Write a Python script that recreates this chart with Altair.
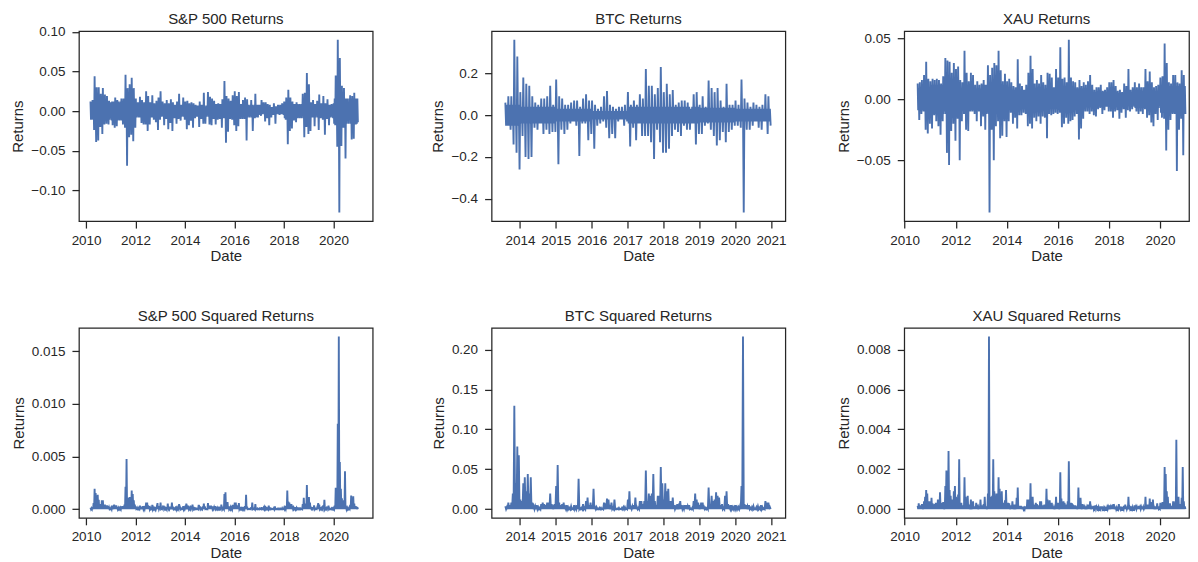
import altair as alt
import pandas as pd

# ---------------- data ----------------
# Monthly maximum / minimum daily log return of each asset.
spx_start = (2010, 3)
spx_up = [0.012, 0.014, 0.044, 0.030, 0.030, 0.022, 0.029, 0.021, 0.019, 0.013,
          0.011, 0.012, 0.017, 0.014, 0.010, 0.016, 0.016, 0.046, 0.029, 0.034, 0.042, 0.029,
          0.016, 0.011, 0.018, 0.014, 0.011, 0.025, 0.019, 0.011, 0.020, 0.010, 0.013, 0.017,
          0.025, 0.012, 0.010, 0.014, 0.010, 0.015, 0.011, 0.008, 0.012, 0.022, 0.008, 0.017,
          0.012, 0.013, 0.010, 0.011, 0.010, 0.008, 0.007, 0.012, 0.008, 0.023, 0.005, 0.024,
          0.018, 0.016, 0.013, 0.009, 0.010, 0.009, 0.015, 0.038, 0.019, 0.016, 0.013, 0.020,
          0.025, 0.019, 0.024, 0.009, 0.014, 0.017, 0.015, 0.005, 0.014, 0.006, 0.022, 0.008,
          0.008, 0.014, 0.011, 0.011, 0.009, 0.008, 0.005, 0.010, 0.006, 0.008, 0.008, 0.010,
          0.012, 0.017, 0.027, 0.017, 0.012, 0.009, 0.011, 0.008, 0.008, 0.022, 0.023, 0.048,
          0.034, 0.011, 0.014, 0.009, 0.013, 0.021, 0.010, 0.019, 0.010, 0.015, 0.008, 0.009,
          0.010, 0.045, 0.090, 0.067, 0.032, 0.029, 0.016, 0.010, 0.020, 0.019, 0.023, 0.016]
spx_lo = [-0.010, -0.024, -0.039, -0.037, -0.020, -0.029, -0.017, -0.016, -0.017, -0.007,
          -0.018, -0.021, -0.019, -0.011, -0.011, -0.017, -0.021, -0.069, -0.033, -0.030, -0.038, -0.021,
          -0.006, -0.008, -0.015, -0.017, -0.017, -0.025, -0.017, -0.008, -0.011, -0.014, -0.024, -0.011,
          -0.006, -0.018, -0.010, -0.023, -0.015, -0.025, -0.009, -0.016, -0.010, -0.012, -0.006, -0.011,
          -0.023, -0.018, -0.012, -0.021, -0.009, -0.007, -0.020, -0.010, -0.016, -0.016, -0.004, -0.017,
          -0.018, -0.010, -0.017, -0.011, -0.010, -0.021, -0.009, -0.040, -0.026, -0.010, -0.011, -0.018,
          -0.025, -0.019, -0.010, -0.010, -0.010, -0.037, -0.005, -0.006, -0.025, -0.009, -0.007, -0.005,
          -0.006, -0.003, -0.013, -0.009, -0.018, -0.008, -0.005, -0.016, -0.003, -0.005, -0.004, -0.005,
          -0.011, -0.042, -0.025, -0.022, -0.012, -0.014, -0.008, -0.008, -0.006, -0.033, -0.020, -0.029,
          -0.025, -0.008, -0.019, -0.005, -0.024, -0.009, -0.011, -0.030, -0.010, -0.018, -0.005, -0.009,
          -0.018, -0.045, -0.128, -0.044, -0.021, -0.060, -0.012, -0.008, -0.036, -0.035, -0.017, -0.014]
# typical (core) daily move per calendar year, 2010 .. 2020
spx_core_years = [2010, 2011, 2012, 2013, 2014, 2015, 2016, 2017, 2018, 2019, 2020]
spx_core = [0.011, 0.012, 0.008, 0.007, 0.007, 0.009, 0.008, 0.004, 0.009, 0.008, 0.016]

btc_start = (2013, 8)
btc_up = [0.06, 0.09, 0.09, 0.36, 0.28,
          0.11, 0.18, 0.15, 0.14, 0.09, 0.06, 0.05, 0.08, 0.08, 0.09, 0.14, 0.05,
          0.17, 0.09, 0.08, 0.05, 0.05, 0.06, 0.07, 0.07, 0.04, 0.08, 0.10, 0.07,
          0.07, 0.05, 0.03, 0.04, 0.09, 0.115, 0.05, 0.04, 0.03, 0.04, 0.04, 0.05,
          0.11, 0.05, 0.07, 0.05, 0.10, 0.08, 0.22, 0.14, 0.14, 0.10, 0.13, 0.23,
          0.11, 0.15, 0.10, 0.12, 0.05, 0.06, 0.07, 0.07, 0.06, 0.03, 0.10, 0.11,
          0.05, 0.09, 0.04, 0.165, 0.13, 0.11, 0.13, 0.07, 0.04, 0.15, 0.05, 0.05,
          0.07, 0.05, 0.17, 0.08, 0.06, 0.04, 0.06, 0.05, 0.04, 0.05, 0.10, 0.09]
btc_lo = [-0.05, -0.07, -0.14, -0.18, -0.26,
          -0.10, -0.20, -0.21, -0.20, -0.06, -0.07, -0.04, -0.09, -0.07, -0.09, -0.08, -0.08,
          -0.235, -0.07, -0.09, -0.07, -0.04, -0.03, -0.05, -0.195, -0.04, -0.04, -0.12, -0.09,
          -0.16, -0.05, -0.04, -0.03, -0.06, -0.11, -0.09, -0.11, -0.03, -0.02, -0.05, -0.03,
          -0.15, -0.06, -0.12, -0.04, -0.10, -0.10, -0.10, -0.13, -0.21, -0.07, -0.13, -0.18,
          -0.18, -0.16, -0.10, -0.07, -0.08, -0.10, -0.05, -0.07, -0.07, -0.04, -0.14, -0.09,
          -0.09, -0.05, -0.04, -0.07, -0.10, -0.145, -0.12, -0.08, -0.13, -0.08, -0.07, -0.05,
          -0.05, -0.06, -0.465, -0.07, -0.07, -0.05, -0.03, -0.06, -0.07, -0.03, -0.09, -0.05]
btc_core_years = [2013, 2014, 2015, 2016, 2017, 2018, 2019, 2020]
btc_core = [0.05, 0.04, 0.03, 0.02, 0.04, 0.04, 0.035, 0.03]

xau_start = (2010, 7)
xau_up = [0.013, 0.014, 0.016, 0.020, 0.031, 0.017,
          0.015, 0.017, 0.016, 0.017, 0.016, 0.013, 0.019, 0.034, 0.032, 0.031, 0.022, 0.030,
          0.025, 0.027, 0.016, 0.014, 0.040, 0.022, 0.015, 0.022, 0.020, 0.012, 0.015, 0.012,
          0.013, 0.016, 0.012, 0.028, 0.020, 0.026, 0.030, 0.028, 0.040, 0.024, 0.015, 0.021,
          0.015, 0.017, 0.014, 0.011, 0.010, 0.033, 0.013, 0.011, 0.008, 0.012, 0.022, 0.036,
          0.025, 0.013, 0.016, 0.013, 0.020, 0.014, 0.012, 0.022, 0.021, 0.018, 0.010, 0.025,
          0.018, 0.043, 0.017, 0.018, 0.014, 0.049, 0.018, 0.015, 0.014, 0.010, 0.016, 0.011,
          0.014, 0.012, 0.015, 0.020, 0.012, 0.008, 0.010, 0.010, 0.012, 0.007, 0.008, 0.010,
          0.014, 0.014, 0.016, 0.011, 0.007, 0.008, 0.006, 0.013, 0.011, 0.025, 0.008, 0.010,
          0.014, 0.010, 0.013, 0.010, 0.010, 0.025, 0.015, 0.023, 0.014, 0.010, 0.011, 0.012,
          0.018, 0.019, 0.046, 0.030, 0.014, 0.013, 0.020, 0.020, 0.014, 0.013, 0.024, 0.020]
xau_lo = [-0.017, -0.012, -0.010, -0.025, -0.028, -0.020,
          -0.024, -0.013, -0.018, -0.022, -0.029, -0.018, -0.010, -0.044, -0.054, -0.026, -0.020, -0.034,
          -0.016, -0.050, -0.018, -0.012, -0.025, -0.026, -0.010, -0.010, -0.012, -0.018, -0.010, -0.022,
          -0.014, -0.025, -0.011, -0.093, -0.025, -0.050, -0.022, -0.018, -0.032, -0.030, -0.018, -0.031,
          -0.018, -0.011, -0.020, -0.015, -0.024, -0.013, -0.013, -0.011, -0.012, -0.022, -0.020, -0.024,
          -0.015, -0.018, -0.014, -0.020, -0.014, -0.015, -0.032, -0.012, -0.013, -0.012, -0.011, -0.012,
          -0.011, -0.023, -0.020, -0.015, -0.020, -0.018, -0.017, -0.014, -0.012, -0.033, -0.024, -0.016,
          -0.010, -0.010, -0.012, -0.010, -0.013, -0.014, -0.008, -0.007, -0.012, -0.009, -0.006, -0.010,
          -0.010, -0.015, -0.010, -0.009, -0.016, -0.011, -0.008, -0.015, -0.009, -0.010, -0.008, -0.006,
          -0.010, -0.012, -0.010, -0.012, -0.008, -0.015, -0.013, -0.019, -0.022, -0.012, -0.017, -0.005,
          -0.015, -0.016, -0.042, -0.025, -0.017, -0.012, -0.012, -0.059, -0.025, -0.016, -0.046, -0.012]
xau_core_years = [2010, 2011, 2012, 2013, 2014, 2015, 2016, 2017, 2018, 2019, 2020]
xau_core = [0.009, 0.012, 0.009, 0.012, 0.008, 0.008, 0.009, 0.006, 0.005, 0.007, 0.011]

# smallest squared daily return seen in every month (read as zero)
sq_floor = 0.0

# x-axis tick years
years_even = [2010, 2012, 2014, 2016, 2018, 2020]
years_btc = [2014, 2015, 2016, 2017, 2018, 2019, 2020, 2021]
# y-axis tick values
ticks_spx = [-0.10, -0.05, 0.00, 0.05, 0.10]
ticks_btc = [-0.4, -0.2, 0.0, 0.2]
ticks_xau = [-0.05, 0.00, 0.05]
ticks_spx2 = [0.000, 0.005, 0.010, 0.015]
ticks_btc2 = [0.00, 0.05, 0.10, 0.15, 0.20]
ticks_xau2 = [0.000, 0.002, 0.004, 0.006, 0.008]


def returns_frame(start, ups, los, core_years, core):
    y0, m0 = start
    core_of = dict(zip(core_years, core))
    rows = []
    for i, (u, l) in enumerate(zip(ups, los)):
        k = m0 - 1 + i
        year = y0 + k // 12
        c = core_of[year]
        t = y0 + k / 12.0
        rows.append((t + 0.125 / 12.0, u))
        rows.append((t + 0.375 / 12.0, -c))
        rows.append((t + 0.625 / 12.0, c))
        rows.append((t + 0.875 / 12.0, l))
    return pd.DataFrame(rows, columns=["t", "v"])


def squared_frame(start, ups, los):
    y0, m0 = start
    rows = []
    for i, (u, l) in enumerate(zip(ups, los)):
        t = y0 + (m0 - 1 + i) / 12.0
        rows.append((t + 0.125 / 12.0, u * u))
        rows.append((t + 0.375 / 12.0, sq_floor))
        rows.append((t + 0.625 / 12.0, l * l))
        rows.append((t + 0.875 / 12.0, sq_floor))
    return pd.DataFrame(rows, columns=["t", "v"])


def padded(df):
    lo, hi = float(df["v"].min()), float(df["v"].max())
    m = 0.05 * (hi - lo)
    return [lo - m, hi + m]


FONT = "Liberation Sans, Arial, sans-serif"
TXT = "#262626"
W = 294
W3 = 285
H = 190


def panel(df, title, xdom, xvals, yvals, yfmt, width, title_dy=0):
    return (
        alt.Chart(df, title=alt.TitleParams(title, dy=title_dy))
        .mark_line(color="#4c72b0", strokeWidth=1.9, clip=True)
        .encode(
            x=alt.X("t:Q",
                    scale=alt.Scale(domain=xdom, nice=False, zero=False),
                    axis=alt.Axis(values=xvals, format="d", title="Date",
                                  labelPadding=5, titlePadding=2)),
            y=alt.Y("v:Q",
                    scale=alt.Scale(domain=padded(df), nice=False, zero=False),
                    axis=alt.Axis(values=yvals, format=yfmt, title="Returns",
                                  labelPadding=7, titlePadding=5)),
        )
        .properties(width=width, height=H)
    )


xd_spx = [2009.71, 2009.71 + W / 24.75]
xd_btc = [2013.21, 2013.21 + W / 35.9]
xd_xau = [2009.985, 2009.985 + W3 / 25.57]

spx = returns_frame(spx_start, spx_up, spx_lo, spx_core_years, spx_core)
btc = returns_frame(btc_start, btc_up, btc_lo, btc_core_years, btc_core)
xau = returns_frame(xau_start, xau_up, xau_lo, xau_core_years, xau_core)
spx2 = squared_frame(spx_start, spx_up, spx_lo)
btc2 = squared_frame(btc_start, btc_up, btc_lo)
xau2 = squared_frame(xau_start, xau_up, xau_lo)

panels = [
    panel(spx, "S&P 500 Returns", xd_spx, years_even, ticks_spx, ".2f", W, title_dy=6),
    panel(btc, "BTC Returns", xd_btc, years_btc, ticks_btc, ".1f", W),
    panel(xau, "XAU Returns", xd_xau, years_even, ticks_xau, ".2f", W3),
    panel(spx2, "S&P 500 Squared Returns", xd_spx, years_even, ticks_spx2, ".3f", W),
    panel(btc2, "BTC Squared Returns", xd_btc, years_btc, ticks_btc2, ".2f", W),
    panel(xau2, "XAU Squared Returns", xd_xau, years_even, ticks_xau2, ".3f", W3),
]

chart = (
    alt.concat(*panels, columns=3, spacing={"row": 107, "column": 119}, bounds="flush")
    .properties(padding={"left": 2, "top": 3, "right": 0, "bottom": 0},
                background="white")
    .configure_view(stroke=TXT, strokeWidth=1.25)
    .configure_title(font=FONT, fontSize=15, fontWeight="normal", color=TXT,
                     offset=4, baseline="alphabetic", frame="group", anchor="middle")
    .configure_axis(labelFont=FONT, titleFont=FONT, labelFontSize=13.5, titleFontSize=15,
                    labelColor=TXT, titleColor=TXT, titleFontWeight="normal",
                    tickColor=TXT, tickWidth=1.25, tickSize=7, domain=False, grid=False,
                    labelFlush=False, labelOverlap=False)
)

chart.save("out.html", embed_options={"renderer": "svg", "actions": False})
